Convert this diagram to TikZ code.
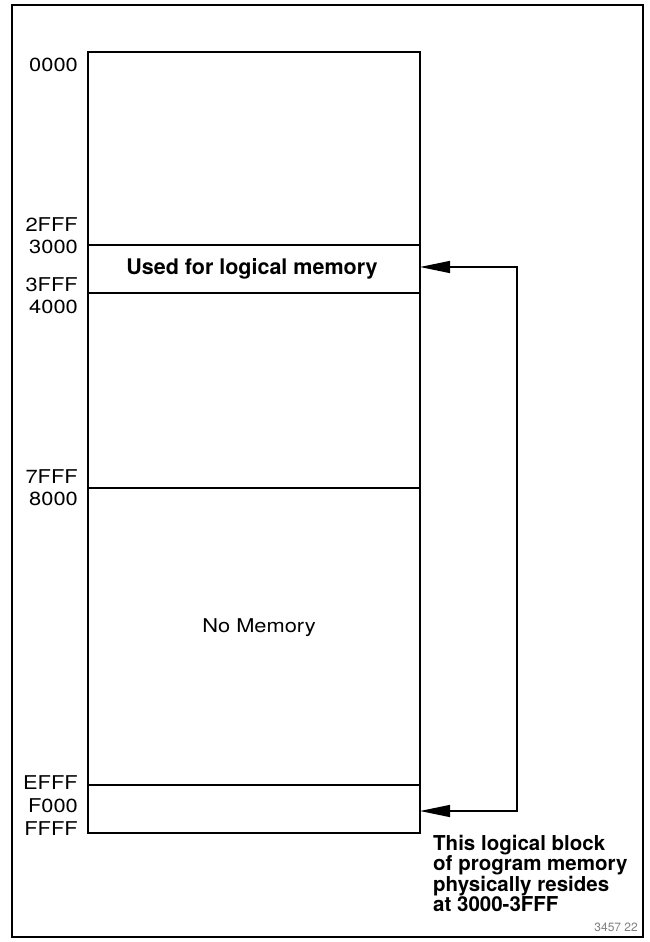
\documentclass[tikz,border=0pt]{standalone}
\usepackage{fontspec}
\setmainfont{TeX Gyre Heros}
\newfontfamily\widefont[FakeStretch=1.15]{TeX Gyre Heros}
\usetikzlibrary{calc,positioning,arrows.meta}

\begin{document}
\begin{tikzpicture}[x=1pt,y=-1pt,> ={Triangle[length=30pt,width=12pt]}]
  \tikzset{
    addr/.style={anchor=east,inner sep=0pt,font=\widefont\fontsize{19}{21}\selectfont},
    blocktext/.style={inner sep=0pt,font=\widefont\fontsize{19}{21}\selectfont},
    boldtext/.style={inner sep=0pt,font=\bfseries\fontsize{21.5}{23}\selectfont},
    memline/.style={line width=2.4pt},
    note/.style={anchor=north west,inner sep=0pt,align=left,
      font=\bfseries\fontsize{20.5}{20.5}\selectfont},
  }
  \useasboundingbox (0,0) rectangle (650,942);
  \draw[line width=1.8pt] (12,5) rectangle (643,937);

  \coordinate (tl) at (88,52);
  \coordinate (br) at (420,833);
  \draw[memline] (tl) rectangle (br);
  % block boundaries
  \foreach \y in {245,293,488,785}
    \draw[memline] (88,\y) -- (420,\y);

  % addresses
  \foreach \a/\y in {0000/65,2FFF/225,3000/247,3FFF/285,4000/307,
                     7FFF/477,8000/499,EFFF/783,F000/806,FFFF/829}
    \node[addr] (a\a) at (78,\y) {\a};

  \node[boldtext] (used) at (252,269) {Used for logical memory};
  \node[blocktext] (nomem) at (259,628) {No Memory};

  \coordinate (usedR) at (420,267);
  \coordinate (highR) at (420,811);
  \coordinate (loopT) at (517,267);
  \coordinate (loopB) at (517,811);
  \draw[line width=1.3pt,<->] (usedR) -- (loopT) -- (loopB) -- (highR);

  \node[note] (note) at (433,835)
    {This logical block\\of program memory\\physically resides\\at 3000-3FFF};
  \node[anchor=south east,inner sep=0pt,text=gray,
    font=\fontsize{12}{13}\selectfont] (fig) at (638,932) {3457 22};
\end{tikzpicture}
\end{document}
